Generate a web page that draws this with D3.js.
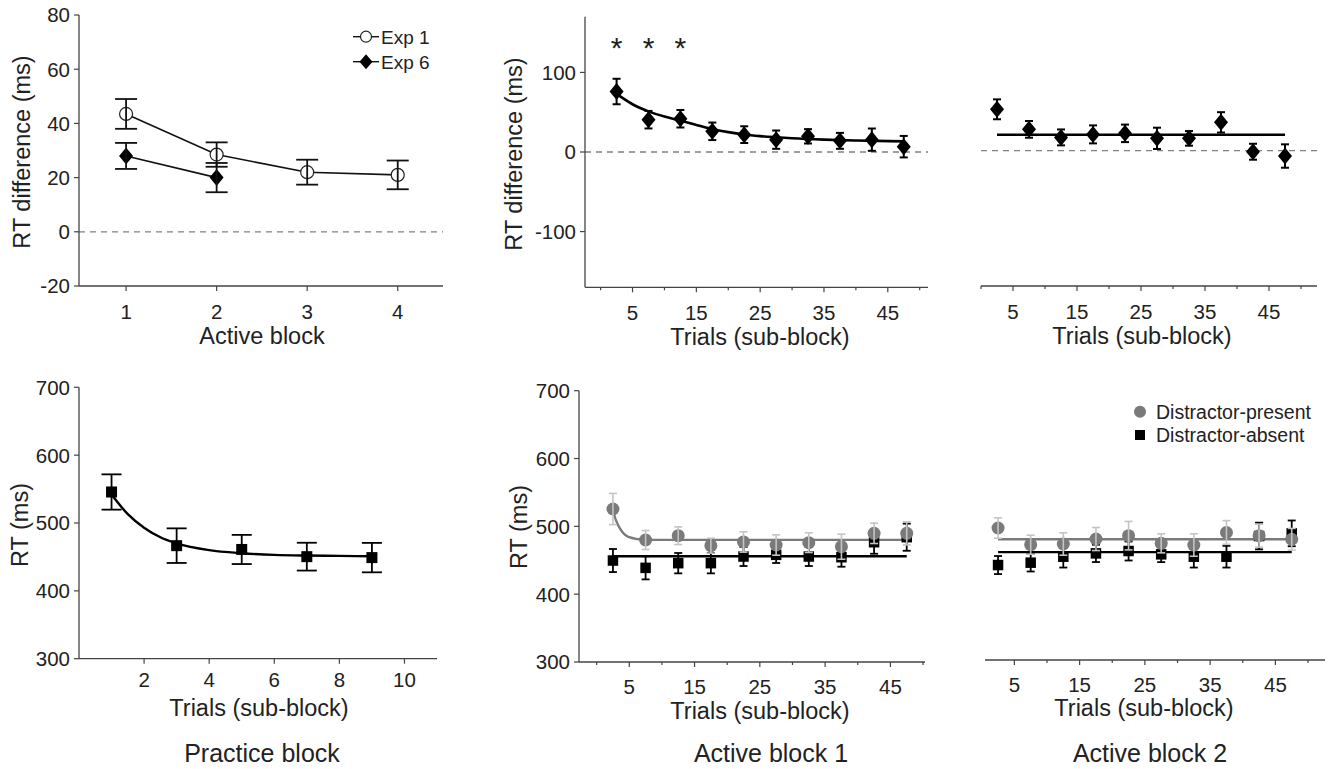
<!DOCTYPE html>
<html>
<head>
<meta charset="utf-8">
<script src="https://cdn.jsdelivr.net/npm/d3@7"></script>
<style>
  html, body { margin: 0; padding: 0; background: #fff; }
  svg { display: block; }
  text { font-family: "Liberation Sans", Arial, Helvetica, sans-serif; fill: #222; }
</style>
</head>
<body>
<svg id="chart" width="1329" height="769"></svg>
<script>
// ---------------- DATA ----------------
// Panel A: RT difference by active block
const activeBlocks = [1, 2, 3, 4];
const exp1Mean = [43.5, 28.5, 22, 21];
const exp1Err = [5.5, 4.5, 4.6, 5.3];
const exp6Blocks = [1, 2];
const exp6Mean = [28, 20];
const exp6Err = [4.8, 5.4];
const blockTicks = [1, 2, 3, 4];
const diffTicksA = [-20, 0, 20, 40, 60, 80];

// Sub-block trials (midpoints)
const subTrials = [2.5, 7.5, 12.5, 17.5, 22.5, 27.5, 32.5, 37.5, 42.5, 47.5];
const subMajorTicks = [5, 15, 25, 35, 45];
const subMinorTicks = [0, 10, 20, 30, 40, 50];
const diffTicksB = [-100, 0, 100];

// Active block 1: RT difference
const ab1DiffMean = [76, 40.6, 41.8, 26, 21.8, 15.5, 19.7, 14, 15.5, 6.7];
const ab1DiffErr = [16, 11, 11, 11, 10.5, 11.5, 9, 10, 14, 13.5];
const ab1DiffFitX = [2.5, 5, 7.5, 10, 12.5, 15, 17.5, 20, 22.5, 25, 27.5, 30, 35, 40, 47.5];
const ab1DiffFitY = [73, 60, 51, 44.5, 39.5, 34, 29, 25, 22, 20, 18.5, 17.2, 15.5, 14.5, 13.3];
const sigTrials = [2.5, 7.5, 12.5];
const sigLevel = 139;

// Active block 2: RT difference
const ab2DiffMean = [52, 26.8, 16.7, 20.5, 21.8, 15.5, 15.5, 35.6, -1.3, -6.7];
const ab2DiffErr = [12.5, 10.5, 10, 11.3, 11, 13.4, 9.2, 12.8, 10, 14.7];
const ab2DiffFitLevel = 20;

// Practice block RT
const practiceTrials = [1, 3, 5, 7, 9];
const practiceMean = [545.7, 466.6, 461, 450.4, 449];
const practiceErr = [26, 25.5, 21.5, 20.5, 21.7];
const practiceFitX = [1, 1.5, 2, 2.5, 3, 4, 5, 6, 7, 8, 9];
const practiceFitY = [542, 513, 493, 479, 470, 460, 455.5, 453, 452, 451.5, 451];
const practiceTicks = [2, 4, 6, 8, 10];
const rtTicks = [300, 400, 500, 600, 700];

// Active block 1 RT
const ab1PresentMean = [525.6, 479.9, 486.2, 471.5, 477, 472.5, 476, 470, 489.7, 489.7];
const ab1PresentErr = [23, 14, 13, 11, 15, 15, 14.5, 18.5, 15, 17];
const ab1PresentFitX = [2.5, 3, 3.5, 4, 4.5, 5, 6, 7.5, 10, 47.5];
const ab1PresentFitY = [523, 508, 498, 491, 486.5, 484, 481.5, 480.3, 480, 480];
const ab1AbsentMean = [449.6, 438.8, 445.7, 445.7, 455.5, 458, 455.5, 454.5, 476.6, 484];
const ab1AbsentErr = [17, 17, 15, 15, 14, 12, 14, 14, 17, 20];
const ab1AbsentFitLevel = 456;

// Active block 2 RT
const ab2PresentMean = [494.6, 470, 471, 478.4, 483.3, 472, 469.5, 488, 483.3, 478];
const ab2PresentErr = [15, 14, 16.5, 17, 21, 14, 16.5, 17.5, 17, 16];
const ab2PresentFitLevel = 478;
const ab2AbsentMean = [440, 443.5, 452.3, 457.2, 460.7, 455.8, 452.3, 452.3, 482.8, 486.7];
const ab2AbsentErr = [13.3, 13, 16, 12.8, 14, 11.5, 16, 16, 19.7, 19];
const ab2AbsentFitLevel = 459;

const legendA = ["Exp 1", "Exp 6"];
const legendRT = ["Distractor-present", "Distractor-absent"];
const titles = ["Practice block", "Active block 1", "Active block 2"];

// ---------------- STYLE ----------------
const AXIS = "#444";
const GREY = "#7a7a7a";
const LIGHT = "#c4c4c4";
const TICK_FS = 20.5;
const LABEL_FS = 23.5;
const TITLE_FS = 25;
const svg = d3.select("#chart");

function drawXAxis(g, x, y0, major, minor, labelOffset) {
  const [a, b] = x.range();
  g.append("line").attr("x1", a).attr("x2", b).attr("y1", y0).attr("y2", y0)
    .attr("stroke", AXIS).attr("stroke-width", 1.3);
  const dom = x.domain();
  const inDom = v => v >= dom[0] && v <= dom[1];
  minor.filter(inDom).forEach(v => {
    g.append("line").attr("x1", x(v)).attr("x2", x(v)).attr("y1", y0).attr("y2", y0 + 3)
      .attr("stroke", AXIS).attr("stroke-width", 1.2);
  });
  major.filter(inDom).forEach(v => {
    g.append("line").attr("x1", x(v)).attr("x2", x(v)).attr("y1", y0).attr("y2", y0 + 5)
      .attr("stroke", AXIS).attr("stroke-width", 1.2);
    g.append("text").attr("x", x(v)).attr("y", y0 + labelOffset)
      .attr("text-anchor", "middle").attr("font-size", TICK_FS).text(v);
  });
}
function drawYAxis(g, y, x0, ticks) {
  const [a, b] = y.range();
  g.append("line").attr("x1", x0).attr("x2", x0).attr("y1", a).attr("y2", b)
    .attr("stroke", AXIS).attr("stroke-width", 1.3);
  ticks.forEach(v => {
    g.append("line").attr("x1", x0 - 5).attr("x2", x0).attr("y1", y(v)).attr("y2", y(v))
      .attr("stroke", AXIS).attr("stroke-width", 1.2);
    g.append("text").attr("x", x0 - 9).attr("y", y(v)).attr("dy", "0.36em")
      .attr("text-anchor", "end").attr("font-size", TICK_FS).text(v);
  });
}
function yLabel(g, cx, cy, txt) {
  g.append("text").attr("transform", `translate(${cx},${cy}) rotate(-90)`)
    .attr("text-anchor", "middle").attr("dy", "0.36em").attr("font-size", LABEL_FS).text(txt);
}
function xLabel(g, cx, by, txt) {
  g.append("text").attr("x", cx).attr("y", by).attr("text-anchor", "middle")
    .attr("font-size", LABEL_FS).text(txt);
}
function title(g, cx, by, txt) {
  g.append("text").attr("x", cx).attr("y", by).attr("text-anchor", "middle")
    .attr("font-size", TITLE_FS).text(txt);
}
function zeroLine(g, x, y) {
  const [a, b] = x.range();
  g.append("line").attr("x1", a).attr("x2", b).attr("y1", y(0)).attr("y2", y(0))
    .attr("stroke", "#808080").attr("stroke-width", 1.3).attr("stroke-dasharray", "6,5");
}
function errBars(g, x, y, xs, ms, es, cap, color, w) {
  xs.forEach((xv, i) => {
    const cx = x(xv), t = y(ms[i] + es[i]), b = y(ms[i] - es[i]);
    g.append("line").attr("x1", cx).attr("x2", cx).attr("y1", t).attr("y2", b)
      .attr("stroke", color).attr("stroke-width", w);
    [t, b].forEach(yy => g.append("line").attr("x1", cx - cap / 2).attr("x2", cx + cap / 2)
      .attr("y1", yy).attr("y2", yy).attr("stroke", color).attr("stroke-width", w));
  });
}
function diamond(g, cx, cy, w, h) {
  g.append("path").attr("d", `M${cx},${cy - h}L${cx + w},${cy}L${cx},${cy + h}L${cx - w},${cy}Z`)
    .attr("fill", "#000");
}
function square(g, cx, cy, s, fill) {
  g.append("rect").attr("x", cx - s / 2).attr("y", cy - s / 2).attr("width", s).attr("height", s)
    .attr("fill", fill);
}

// ---------------- PANEL A (top-left) ----------------
{
  const g = svg.append("g");
  const x = d3.scaleLinear().domain([0.48, 4.5]).range([79, 443]);
  const y = d3.scaleLinear().domain([-20, 80]).range([286, 15]);
  zeroLine(g, x, y);
  drawYAxis(g, y, 79, diffTicksA);
  drawXAxis(g, x, 286, blockTicks, [], 33);
  yLabel(g, 22, 152, "RT difference (ms)");
  xLabel(g, 262, 344, "Active block");
  const line = d3.line().x(d => x(d[0])).y(d => y(d[1]));
  g.append("path").attr("d", line(activeBlocks.map((b, i) => [b, exp1Mean[i]])))
    .attr("fill", "none").attr("stroke", "#111").attr("stroke-width", 1.6);
  g.append("path").attr("d", line(exp6Blocks.map((b, i) => [b, exp6Mean[i]])))
    .attr("fill", "none").attr("stroke", "#111").attr("stroke-width", 1.6);
  activeBlocks.forEach((b, i) => g.append("circle").attr("cx", x(b)).attr("cy", y(exp1Mean[i]))
    .attr("r", 6.5).attr("fill", "#fff").attr("stroke", "#222").attr("stroke-width", 1.2));
  exp6Blocks.forEach((b, i) => diamond(g, x(b), y(exp6Mean[i]), 7, 8.5));
  errBars(g, x, y, activeBlocks, exp1Mean, exp1Err, 22, "#111", 1.8);
  errBars(g, x, y, exp6Blocks, exp6Mean, exp6Err, 22, "#111", 1.8);
  // legend
  const ly = [36.7, 61.7];
  ly.forEach((yy, i) => {
    g.append("line").attr("x1", 353).attr("x2", 379).attr("y1", yy).attr("y2", yy)
      .attr("stroke", "#111").attr("stroke-width", 1.4);
    if (i === 0) g.append("circle").attr("cx", 366).attr("cy", yy).attr("r", 5.5)
      .attr("fill", "#fff").attr("stroke", "#222").attr("stroke-width", 1.2);
    else diamond(g, 366, yy, 6.5, 7.5);
    g.append("text").attr("x", 381).attr("y", yy).attr("dy", "0.36em")
      .attr("font-size", 19).text(legendA[i]);
  });
}

// ---------------- PANEL B (top-middle) ----------------
{
  const g = svg.append("g");
  const x = d3.scaleLinear().domain([-2.45, 51.3]).range([585, 928]);
  const y = d3.scaleLinear().domain([-170, 170]).range([287.3, 16.7]);
  zeroLine(g, x, y);
  drawYAxis(g, y, 585, diffTicksB);
  drawXAxis(g, x, 287.3, subMajorTicks, subMinorTicks, 33);
  yLabel(g, 514, 154, "RT difference (ms)");
  xLabel(g, 760, 345, "Trials (sub-block)");
  g.append("path").attr("d", d3.line().curve(d3.curveMonotoneX).x(d => x(d[0])).y(d => y(d[1]))
      (ab1DiffFitX.map((v, i) => [v, ab1DiffFitY[i]])))
    .attr("fill", "none").attr("stroke", "#000").attr("stroke-width", 2.6);
  errBars(g, x, y, subTrials, ab1DiffMean, ab1DiffErr, 8, "#000", 2);
  subTrials.forEach((t, i) => diamond(g, x(t), y(ab1DiffMean[i]), 7, 8.5));
  sigTrials.forEach(t => g.append("text").attr("x", x(t)).attr("y", y(sigLevel)).attr("dy", "0.57em")
    .attr("text-anchor", "middle").attr("font-size", 30).attr("fill", "#000").text("*"));
}

// ---------------- PANEL C (top-right) ----------------
{
  const g = svg.append("g");
  const x = d3.scaleLinear().domain([0, 52.5]).range([981, 1317]);
  const y = d3.scaleLinear().domain([-170, 170]).range([286, 15.4]);
  zeroLine(g, x, y);
  drawXAxis(g, x, 286, subMajorTicks, subMinorTicks, 33);
  xLabel(g, 1142, 344, "Trials (sub-block)");
  g.append("line").attr("x1", x(subTrials[0])).attr("x2", x(subTrials[subTrials.length - 1]))
    .attr("y1", y(ab2DiffFitLevel)).attr("y2", y(ab2DiffFitLevel))
    .attr("stroke", "#000").attr("stroke-width", 2.6);
  errBars(g, x, y, subTrials, ab2DiffMean, ab2DiffErr, 8, "#000", 2);
  subTrials.forEach((t, i) => diamond(g, x(t), y(ab2DiffMean[i]), 7, 8.5));
}

// ---------------- PANEL D (bottom-left) ----------------
{
  const g = svg.append("g");
  const x = d3.scaleLinear().domain([0, 11]).range([79, 437]);
  const y = d3.scaleLinear().domain([300, 700]).range([658.7, 387.3]);
  drawYAxis(g, y, 79, rtTicks);
  drawXAxis(g, x, 658.7, practiceTicks, [], 28);
  yLabel(g, 20, 525, "RT (ms)");
  xLabel(g, 259, 716, "Trials (sub-block)");
  g.append("path").attr("d", d3.line().curve(d3.curveMonotoneX).x(d => x(d[0])).y(d => y(d[1]))
      (practiceFitX.map((v, i) => [v, practiceFitY[i]])))
    .attr("fill", "none").attr("stroke", "#000").attr("stroke-width", 2.4);
  errBars(g, x, y, practiceTrials, practiceMean, practiceErr, 20, "#000", 1.8);
  practiceTrials.forEach((t, i) => square(g, x(t), y(practiceMean[i]), 11, "#000"));
  title(g, 262, 762, titles[0]);
}

// ---------------- PANEL E (bottom-middle) ----------------
{
  const g = svg.append("g");
  const x = d3.scaleLinear().domain([-2.7, 50.3]).range([579, 925]);
  const y = d3.scaleLinear().domain([300, 700]).range([662, 390.7]);
  drawYAxis(g, y, 579, rtTicks);
  drawXAxis(g, x, 662, subMajorTicks, subMinorTicks, 32);
  yLabel(g, 519, 527, "RT (ms)");
  xLabel(g, 760, 719, "Trials (sub-block)");
  g.append("path").attr("d", d3.line().curve(d3.curveMonotoneX).x(d => x(d[0])).y(d => y(d[1]))
      (ab1PresentFitX.map((v, i) => [v, ab1PresentFitY[i]])))
    .attr("fill", "none").attr("stroke", GREY).attr("stroke-width", 2.4);
  g.append("line").attr("x1", x(subTrials[0])).attr("x2", x(subTrials[subTrials.length - 1]))
    .attr("y1", y(ab1AbsentFitLevel)).attr("y2", y(ab1AbsentFitLevel))
    .attr("stroke", "#000").attr("stroke-width", 2.4);
  subTrials.forEach((t, i) => square(g, x(t), y(ab1AbsentMean[i]), 10.5, "#000"));
  errBars(g, x, y, subTrials, ab1AbsentMean, ab1AbsentErr, 8, "#000", 1.8);
  subTrials.forEach((t, i) => g.append("circle").attr("cx", x(t)).attr("cy", y(ab1PresentMean[i]))
    .attr("r", 6.5).attr("fill", GREY));
  errBars(g, x, y, subTrials, ab1PresentMean, ab1PresentErr, 8, LIGHT, 1.6);
  title(g, 771, 762, titles[1]);
}

// ---------------- PANEL F (bottom-right) ----------------
{
  const g = svg.append("g");
  const x = d3.scaleLinear().domain([0.5, 52.6]).range([985, 1325]);
  const y = d3.scaleLinear().domain([300, 700]).range([660, 388.7]);
  drawXAxis(g, x, 660, subMajorTicks, subMinorTicks, 32);
  xLabel(g, 1144, 716, "Trials (sub-block)");
  g.append("line").attr("x1", x(subTrials[0])).attr("x2", x(subTrials[subTrials.length - 1]))
    .attr("y1", y(ab2PresentFitLevel)).attr("y2", y(ab2PresentFitLevel))
    .attr("stroke", GREY).attr("stroke-width", 2.4);
  g.append("line").attr("x1", x(subTrials[0])).attr("x2", x(subTrials[subTrials.length - 1]))
    .attr("y1", y(ab2AbsentFitLevel)).attr("y2", y(ab2AbsentFitLevel))
    .attr("stroke", "#000").attr("stroke-width", 2.4);
  subTrials.forEach((t, i) => square(g, x(t), y(ab2AbsentMean[i]), 10.5, "#000"));
  errBars(g, x, y, subTrials, ab2AbsentMean, ab2AbsentErr, 8, "#000", 1.8);
  subTrials.forEach((t, i) => g.append("circle").attr("cx", x(t)).attr("cy", y(ab2PresentMean[i]))
    .attr("r", 6.5).attr("fill", GREY));
  errBars(g, x, y, subTrials, ab2PresentMean, ab2PresentErr, 8, LIGHT, 1.6);
  // legend
  g.append("circle").attr("cx", 1140).attr("cy", 411.7).attr("r", 6).attr("fill", GREY);
  square(g, 1140, 435, 10, "#000");
  [411.7, 435].forEach((yy, i) => g.append("text").attr("x", 1156).attr("y", yy).attr("dy", "0.36em")
    .attr("font-size", 19.5).text(legendRT[i]));
  title(g, 1150, 762, titles[2]);
}
</script>
</body>
</html>
